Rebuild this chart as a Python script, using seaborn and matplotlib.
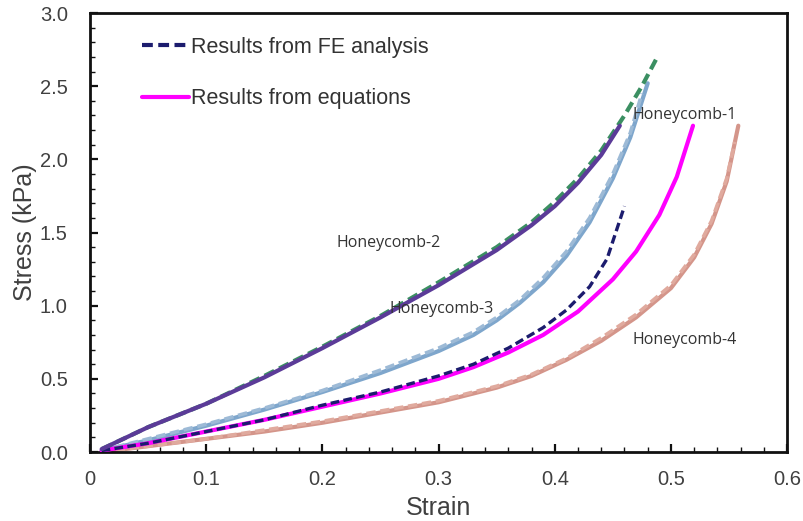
import numpy as np
import pandas as pd
import matplotlib
matplotlib.use("Agg")
import matplotlib.pyplot as plt
import seaborn as sns
from matplotlib.ticker import MultipleLocator
from matplotlib.lines import Line2D

# ---- data ----
strain_eq2 = [0.01, 0.05, 0.10, 0.15, 0.20, 0.25, 0.30, 0.35, 0.38, 0.40, 0.42, 0.44, 0.456]
stress_eq2 = [0.02, 0.17, 0.33, 0.51, 0.71, 0.92, 1.14, 1.38, 1.55, 1.68, 1.84, 2.03, 2.23]
strain_fe2 = [0.01, 0.05, 0.10, 0.15, 0.20, 0.25, 0.30, 0.35, 0.38, 0.40, 0.42, 0.44, 0.46, 0.475, 0.489]
stress_fe2 = [0.02, 0.17, 0.33, 0.52, 0.72, 0.93, 1.16, 1.40, 1.57, 1.71, 1.87, 2.06, 2.30, 2.50, 2.71]

strain_eq3 = [0.01, 0.05, 0.10, 0.15, 0.20, 0.25, 0.30, 0.33, 0.35, 0.37, 0.39, 0.41, 0.43, 0.45, 0.465, 0.48]
stress_eq3 = [0.01, 0.08, 0.18, 0.29, 0.41, 0.54, 0.69, 0.80, 0.90, 1.02, 1.16, 1.34, 1.57, 1.87, 2.15, 2.52]
strain_fe3 = [0.01, 0.05, 0.10, 0.15, 0.20, 0.25, 0.30, 0.33, 0.35, 0.37, 0.39, 0.41, 0.43, 0.45, 0.465, 0.475]
stress_fe3 = [0.01, 0.09, 0.19, 0.30, 0.42, 0.56, 0.71, 0.82, 0.92, 1.04, 1.19, 1.37, 1.60, 1.90, 2.18, 2.45]

strain_eq1 = [0.01, 0.05, 0.10, 0.15, 0.20, 0.25, 0.30, 0.33, 0.36, 0.39, 0.42, 0.45, 0.47, 0.49, 0.505, 0.519]
stress_eq1 = [0.01, 0.06, 0.14, 0.22, 0.31, 0.40, 0.50, 0.58, 0.68, 0.80, 0.96, 1.18, 1.37, 1.62, 1.88, 2.23]
strain_fe1 = [0.01, 0.05, 0.10, 0.15, 0.20, 0.25, 0.30, 0.33, 0.36, 0.39, 0.41, 0.43, 0.445, 0.46]
stress_fe1 = [0.01, 0.06, 0.14, 0.22, 0.32, 0.41, 0.52, 0.60, 0.71, 0.85, 0.97, 1.13, 1.32, 1.68]

strain_eq4 = [0.01, 0.05, 0.10, 0.15, 0.20, 0.25, 0.30, 0.35, 0.38, 0.41, 0.44, 0.47, 0.50, 0.52, 0.535, 0.548, 0.558]
stress_eq4 = [0.00, 0.04, 0.09, 0.14, 0.20, 0.27, 0.34, 0.44, 0.52, 0.63, 0.76, 0.92, 1.12, 1.33, 1.56, 1.85, 2.23]
strain_fe4 = [0.01, 0.05, 0.10, 0.15, 0.20, 0.25, 0.30, 0.35, 0.38, 0.41, 0.44, 0.47, 0.50, 0.52, 0.535, 0.548, 0.555]
stress_fe4 = [0.00, 0.04, 0.09, 0.15, 0.21, 0.28, 0.35, 0.45, 0.53, 0.64, 0.78, 0.94, 1.14, 1.35, 1.58, 1.87, 2.12]

labels = ["Honeycomb-1", "Honeycomb-2", "Honeycomb-3", "Honeycomb-4"]
label_x = [0.512, 0.257, 0.303, 0.512]
label_y = [2.30, 1.43, 0.98, 0.765]

legend_labels = ["Results from FE analysis", "Results from equations"]

# ---- figure ----
sns.set_style("ticks")
plt.rcParams["font.family"] = ["Liberation Sans", "DejaVu Sans"]

fig = plt.figure(figsize=(8.04, 5.21), dpi=100)
ax = fig.add_axes([0.112, 0.1324, 0.867, 0.8426])

DASH = (0, (2.6, 1.3))

def draw(x, y, color, lw, dashed=False, z=2):
    df = pd.DataFrame({"strain": x, "stress": y})
    sns.lineplot(data=df, x="strain", y="stress", ax=ax, color=color, lw=lw,
                 linestyle=DASH if dashed else "-", zorder=z,
                 estimator=None, sort=False)

# solid (equations)
draw(strain_eq4, stress_eq4, "#d4958a", 3.0, z=2)
draw(strain_eq3, stress_eq3, "#7ea6cc", 3.0, z=2)
draw(strain_eq1, stress_eq1, "#ff00ff", 3.0, z=3)
# dashed (FE)
draw(strain_fe4, stress_fe4, "#e0aa9e", 2.6, dashed=True, z=2)
draw(strain_fe3, stress_fe3, "#9dbad6", 2.6, dashed=True, z=2)
draw(strain_fe1, stress_fe1, "#1c1c6e", 2.4, dashed=True, z=4)
draw(strain_fe2, stress_fe2, "#3b8f62", 3.0, dashed=True, z=3)
draw(strain_eq2, stress_eq2, "#5b3b98", 3.0, z=4)

for t, x, y in zip(labels, label_x, label_y):
    ax.text(x, y, t, ha="center", va="center", fontsize=11.5, color="#333333",
            family=["Open Sans", "DejaVu Sans"], zorder=6)

ax.set_xlim(0, 0.6)
ax.set_ylim(0, 3.0)
ax.xaxis.set_minor_locator(MultipleLocator(0.02))
ax.yaxis.set_minor_locator(MultipleLocator(0.1))
ax.set_xticks([0, 0.1, 0.2, 0.3, 0.4, 0.5, 0.6])
ax.set_xticklabels(["0", "0.1", "0.2", "0.3", "0.4", "0.5", "0.6"])
ax.set_yticks([0, 0.5, 1.0, 1.5, 2.0, 2.5, 3.0])
ax.set_yticklabels(["0.0", "0.5", "1.0", "1.5", "2.0", "2.5", "3.0"])
ax.tick_params(axis="both", which="both", bottom=True, left=True, top=False, right=False)
ax.tick_params(axis="x", which="major", direction="in", length=6, width=1.6,
               labelsize=14.5, colors="#111111", labelcolor="#404040", pad=13)
ax.tick_params(axis="y", which="major", direction="in", length=6, width=1.6,
               labelsize=14.5, colors="#111111", labelcolor="#404040", pad=16)
ax.tick_params(axis="both", which="minor", direction="in", length=3.5, width=1.0,
               colors="#111111")
for s in ax.spines.values():
    s.set_linewidth(2.0)
    s.set_color("#111111")

ax.set_xlabel("Strain", fontsize=18, color="#404040", labelpad=5)
ax.set_ylabel("Stress (kPa)", fontsize=18, color="#404040", labelpad=2)
ax.grid(False)

handles = [Line2D([], [], color="#1c1c6e", lw=3, linestyle=DASH),
           Line2D([], [], color="#ff00ff", lw=3)]
ax.legend(handles, legend_labels, loc="upper left", bbox_to_anchor=(0.062, 0.965),
          frameon=False, fontsize=15.5, labelcolor="#333333", handlelength=2.2,
          handletextpad=0.1, labelspacing=1.4, borderaxespad=0)

fig.savefig("out.png", dpi=100)
